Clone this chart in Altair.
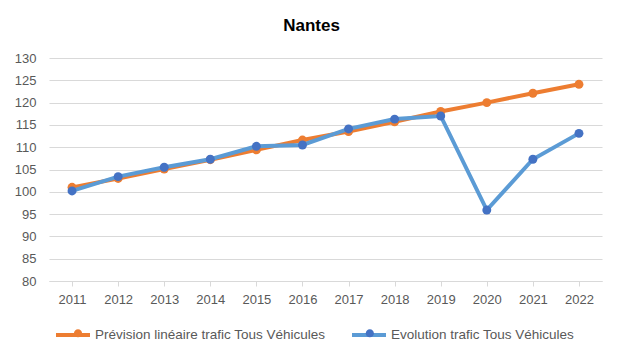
import altair as alt
import pandas as pd

years = [2011, 2012, 2013, 2014, 2015, 2016, 2017, 2018, 2019, 2020, 2021, 2022]
prevision = [101.0, 103.0, 105.1, 107.2, 109.4, 111.6, 113.5, 115.7, 118.0, 120.0, 122.1, 124.1]
evolution = [100.2, 103.4, 105.5, 107.3, 110.2, 110.5, 114.1, 116.3, 117.0, 95.9, 107.3, 113.1]
series_names = ["Prévision linéaire trafic Tous Véhicules", "Evolution trafic Tous Véhicules"]
line_colors = ["#ED7D31", "#5B9BD5"]
marker_colors = ["#ED7D31", "#4472C4"]
y_ticks = list(range(80, 131, 5))

rows = []
for y, v in zip(years, prevision):
    rows.append({"year": y, "value": v, "series": series_names[0]})
for y, v in zip(years, evolution):
    rows.append({"year": y, "value": v, "series": series_names[1]})
df = pd.DataFrame(rows)
df["marker_series"] = df["series"]

FONT = "Liberation Sans"
LABEL_SIZE = 13.5

x_enc = alt.X(
    "year:O",
    scale=alt.Scale(type="point", padding=0.5),
    axis=alt.Axis(
        title=None, labelAngle=0, labelFont=FONT, labelFontSize=13, labelColor="#595959",
        domainColor="#d9d9d9", tickColor="#d9d9d9", tickSize=5, labelPadding=7,
        grid=False,
    ),
)
y_enc = alt.Y(
    "value:Q",
    scale=alt.Scale(domain=[80, 130], nice=False, zero=False),
    axis=alt.Axis(
        title=None, values=y_ticks, labelFont=FONT, labelFontSize=13, labelColor="#595959",
        domain=False, ticks=False, tickSize=0, labelPadding=13,
        gridColor="#d9d9d9", gridWidth=1,
    ),
)

# legend for the lines (carries the text labels)
line_legend = alt.Legend(
    title=None, orient="none", direction="horizontal", legendX=5, legendY=258,
    symbolType="stroke", symbolSize=1156, symbolStrokeWidth=4,
    labelFont=FONT, labelFontSize=LABEL_SIZE, labelLimit=500, labelColor="#595959",
    labelOffset=3, columnPadding=18,
)
# legend for the markers, overlaid on the line symbols (no text)
first_label_width = 17.172 * LABEL_SIZE
dot_legend = alt.Legend(
    title=None, orient="none", direction="horizontal", legendX=5, legendY=258,
    symbolType="M0.24,0A0.24,0.24,0,1,1,-0.24,0A0.24,0.24,0,1,1,0.24,0Z",
    symbolSize=1156, symbolStrokeWidth=0, symbolOffset=7,
    labelExpr="''", labelFont=FONT, labelFontSize=LABEL_SIZE,
    labelOffset=3, columnPadding=12 + 4 + first_label_width,
)

color_enc = alt.Color("series:N", scale=alt.Scale(domain=series_names, range=line_colors), legend=line_legend)
fill_enc = alt.Fill("marker_series:N", scale=alt.Scale(range=marker_colors), sort=series_names, legend=dot_legend)

base = alt.Chart(df)
layers = []
for name in series_names:
    sub = base.transform_filter(alt.datum.series == name)
    layers.append(sub.mark_line(strokeWidth=4).encode(x=x_enc, y=y_enc, color=color_enc))
    layers.append(sub.mark_circle(size=80, opacity=1).encode(x=x_enc, y=y_enc, fill=fill_enc))

chart = alt.layer(*layers).properties(
    width=553,
    height=223,
    title=alt.TitleParams(
        text="Nantes", font=FONT, fontSize=17, fontWeight="bold", color="black",
        anchor="middle", offset=17, dx=-14,
    ),
    autosize=alt.AutoSizeParams(type="none"),
    padding={"left": 41, "top": 50, "right": 8, "bottom": 70},
    background="white",
).configure_view(stroke=None)

chart.save("out.html", embed_options={"renderer": "svg", "actions": False})
